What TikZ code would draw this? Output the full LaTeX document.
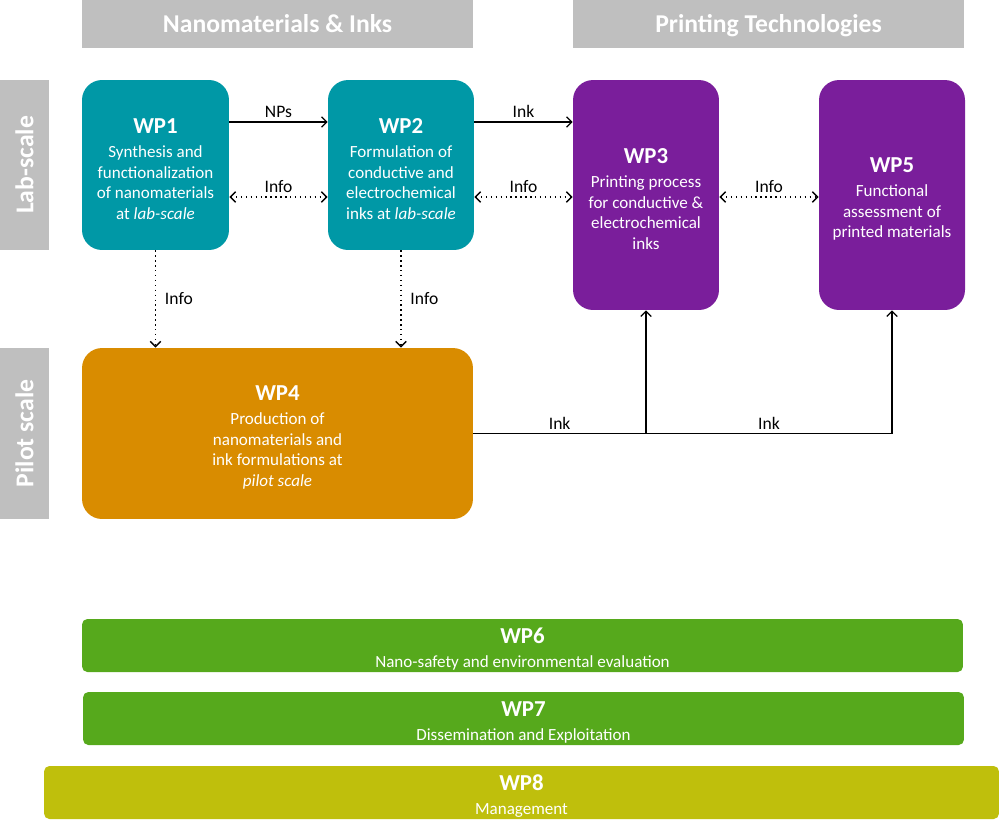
\documentclass[tikz,border=0pt]{standalone}
\usepackage{fontspec}
\setmainfont{Carlito}
\usepackage{tikz}
\usetikzlibrary{arrows.meta}
\definecolor{labteal}{HTML}{0098A6}
\definecolor{printpurple}{HTML}{7A1E9B}
\definecolor{pilotorange}{HTML}{D98C00}
\definecolor{crossgreen}{HTML}{56A91C}
\definecolor{mgmtolive}{HTML}{BFBF0C}
\definecolor{bandgray}{HTML}{BFBFBF}
\newcommand*\wphead[1]{{\fontsize{13}{16}\selectfont\bfseries\rule{0pt}{13pt}#1}}
\tikzset{
	wpbox/.style={rounded corners=0.4cm, text=white, align=center, inner sep=2pt,
		font=\fontsize{9.7}{11.7}\selectfont},
	wpbar/.style={rounded corners=3pt, text=white, align=center, inner xsep=1pt, inner ysep=0pt,
		minimum width=17.62cm, minimum height=1.06cm, font=\fontsize{9.7}{11.7}\selectfont},
	band/.style={fill=bandgray, text=white, text height=2.6ex, text depth=0.5ex,
		font=\fontsize{14.6}{17}\selectfont\bfseries},
	flow/.style={-{Straight Barb[length=3pt,width=6pt]}, line width=0.7pt},
	info/.style={{Straight Barb[length=3pt,width=6pt]}-{Straight Barb[length=3pt,width=6pt]}, dotted, line width=0.8pt},
	infodown/.style={-{Straight Barb[length=3pt,width=6pt]}, dotted, line width=0.8pt},
	tag/.style={font=\fontsize{10}{12}\selectfont, inner sep=2pt}
}

\begin{document}
\begin{tikzpicture}[x=0.02cm, y=-0.02cm]
	\useasboundingbox (0,0) rectangle (1000,829);
	% column and row bands
	\node[band, minimum width=7.82cm, minimum height=0.96cm] (nanoband) at (277.5,24) {Nanomaterials \& Inks};
	\node[band, minimum width=7.82cm, minimum height=0.96cm] (printband) at (768.5,24) {Printing Technologies};
	\node[band, rotate=90, minimum width=3.4cm, minimum height=0.98cm] (labband) at (24.5,165) {Lab-scale};
	\node[band, rotate=90, minimum width=3.42cm, minimum height=0.98cm] (pilotband) at (24.5,433.5) {Pilot scale};
	% work packages
	\node[wpbox, fill=labteal, minimum width=2.94cm, minimum height=3.4cm] (wp1) at (155.5,165)
		{\wphead{WP1}\\[2pt]Synthesis and\\functionalization\\of nanomaterials\\at \textit{lab-scale}};
	\node[wpbox, fill=labteal, minimum width=2.92cm, minimum height=3.4cm] (wp2) at (401,165)
		{\wphead{WP2}\\[2pt]Formulation of\\conductive and\\electrochemical\\inks at \textit{lab-scale}};
	\node[wpbox, fill=printpurple, minimum width=2.92cm, minimum height=4.6cm] (wp3) at (646,195)
		{\wphead{WP3}\\[2pt]Printing process\\for conductive \&\\electrochemical\\inks};
	\node[wpbox, fill=printpurple, minimum width=2.92cm, minimum height=4.6cm] (wp5) at (892,195)
		{\wphead{WP5}\\[2pt]Functional\\assessment of\\printed materials};
	\node[wpbox, fill=pilotorange, minimum width=7.82cm, minimum height=3.42cm] (wp4) at (277.5,433.5)
		{\wphead{WP4}\\[2pt]Production of\\nanomaterials and\\ink formulations at\\\textit{pilot scale}};
	\node[wpbar, fill=crossgreen] (wp6) at (522.5,645.5) {\wphead{WP6}\\[2pt]Nano-safety and environmental evaluation};
	\node[wpbar, fill=crossgreen] (wp7) at (523.5,718.5) {\wphead{WP7}\\[2pt]Dissemination and Exploitation};
	\node[wpbar, fill=mgmtolive, minimum width=19.1cm] (wp8) at (521.5,792.5) {\wphead{WP8}\\[2pt]Management};
	% connectors
	\coordinate (flowrow) at (0,122);
	\coordinate (inforow) at (0,197);
	\draw[flow] (wp1.east |- flowrow) -- node[tag, above] {NPs} (wp2.west |- flowrow);
	\draw[flow] (wp2.east |- flowrow) -- node[tag, above] {Ink} (wp3.west |- flowrow);
	\draw[info] (wp1.east |- inforow) -- node[tag, above] {Info} (wp2.west |- inforow);
	\draw[info] (wp2.east |- inforow) -- node[tag, above] {Info} (wp3.west |- inforow);
	\draw[info] (wp3.east |- inforow) -- node[tag, above] {Info} (wp5.west |- inforow);
	\draw[infodown] (wp1.south) -- node[tag, right=3pt] {Info} (wp1.south |- wp4.north);
	\draw[infodown] (wp2.south) -- node[tag, right=3pt] {Info} (wp2.south |- wp4.north);
	\coordinate (inksplit) at (wp4.east -| wp3.south);
	\draw[flow] (wp4.east) -- node[tag, above] {Ink} (inksplit) -- node[tag, above] {Ink} (inksplit -| wp5.south) -- (wp5.south);
	\draw[flow] (inksplit) -- (wp3.south);
\end{tikzpicture}
\end{document}
